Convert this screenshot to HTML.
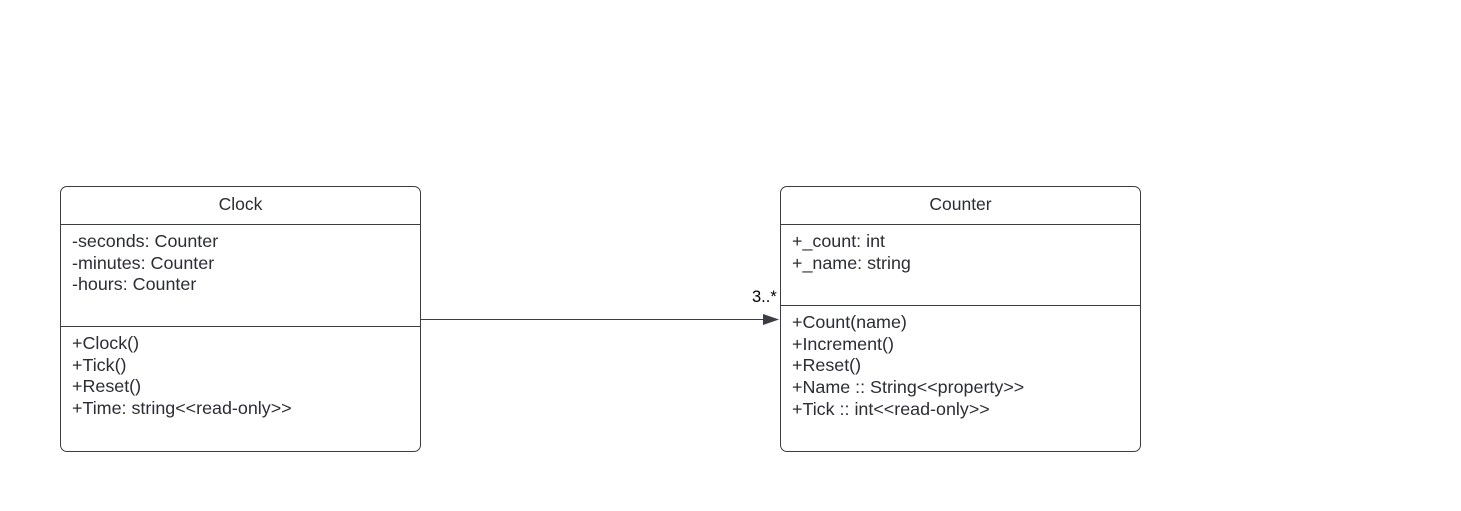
<!DOCTYPE html>
<html><head><style>
body{margin:0;width:1461px;height:511px;background:#fff;position:relative;font-family:"Liberation Sans",sans-serif;color:#2a2d33;overflow:hidden}
.box{position:absolute;border:1px solid #3a3d44;border-radius:7px;box-sizing:border-box;background:#fff}
.t{position:absolute;left:0;right:0;text-align:center;font-size:17.5px;top:7px}
.hl{position:absolute;left:0;right:0;border-top:1px solid #3a3d44}
.tx{position:absolute;left:11px;font-size:17.9px;line-height:21.7px;white-space:pre}
</style></head><body>
<div class="box" style="left:60px;top:186px;width:361px;height:266px">
<div class="t">Clock</div>
<div class="hl" style="top:37px"></div>
<div class="tx" style="top:44px">-seconds: Counter
-minutes: Counter
-hours: Counter</div>
<div class="hl" style="top:139px"></div>
<div class="tx" style="top:146px">+Clock()
+Tick()
+Reset()
+Time: string&lt;&lt;read-only&gt;&gt;</div>
</div>
<div class="box" style="left:780px;top:186px;width:361px;height:266px">
<div class="t">Counter</div>
<div class="hl" style="top:37px"></div>
<div class="tx" style="top:44px">+_count: int
+_name: string</div>
<div class="hl" style="top:118px"></div>
<div class="tx" style="top:125px">+Count(name)
+Increment()
+Reset()
+Name :: String&lt;&lt;property&gt;&gt;
+Tick :: int&lt;&lt;read-only&gt;&gt;</div>
</div>
<svg style="position:absolute;left:0;top:0" width="1461" height="511">
<line x1="421" y1="319.5" x2="765" y2="319.5" stroke="#3a3d44" stroke-width="1"/>
<polygon points="763,314 779,319.5 763,325" fill="#3a3d44"/>
</svg>
<div style="position:absolute;left:752px;top:288px;font-size:16.5px;color:#000">3..*</div>
</body></html>
